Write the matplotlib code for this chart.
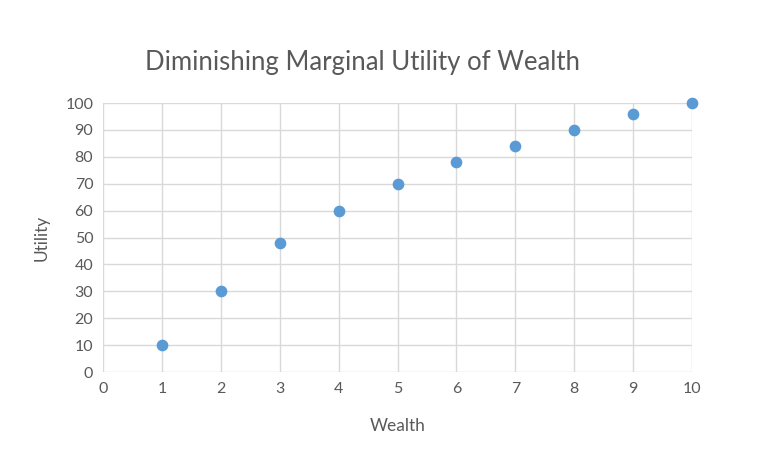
import matplotlib.pyplot as plt

wealth = [1, 2, 3, 4, 5, 6, 7, 8, 9, 10]
utility = [10, 30, 48, 60, 70, 78, 84, 90, 96, 100]

plt.rcParams['font.family'] = ['Lato', 'DejaVu Sans']

fig = plt.figure(figsize=(7.69, 4.54), dpi=100)
ax = fig.add_axes([0.134, 0.1806, 0.766, 0.5925])

ax.scatter(wealth, utility, s=55, color='#5B9BD5', zorder=3, clip_on=False)

ax.set_xlim(0, 10)
ax.set_ylim(0, 100)
ax.set_xticks(range(0, 11))
ax.set_yticks(range(0, 101, 10))
ax.grid(True, color='#D9D9D9', linewidth=1)
ax.set_axisbelow(True)
for s in ax.spines.values():
    s.set_visible(False)
ax.tick_params(length=0, colors='#595959', labelsize=11.5, pad=7)

ax.set_xlabel('Wealth', color='#595959', fontsize=12.5, labelpad=16)
ax.set_ylabel('Utility', color='#595959', fontsize=12.5, labelpad=11)
fig.text(0.472, 0.862, 'Diminishing Marginal Utility of Wealth', ha='center', va='center',
         color='#595959', fontsize=18.5)

fig.savefig('out.png', dpi=100, facecolor='white')
